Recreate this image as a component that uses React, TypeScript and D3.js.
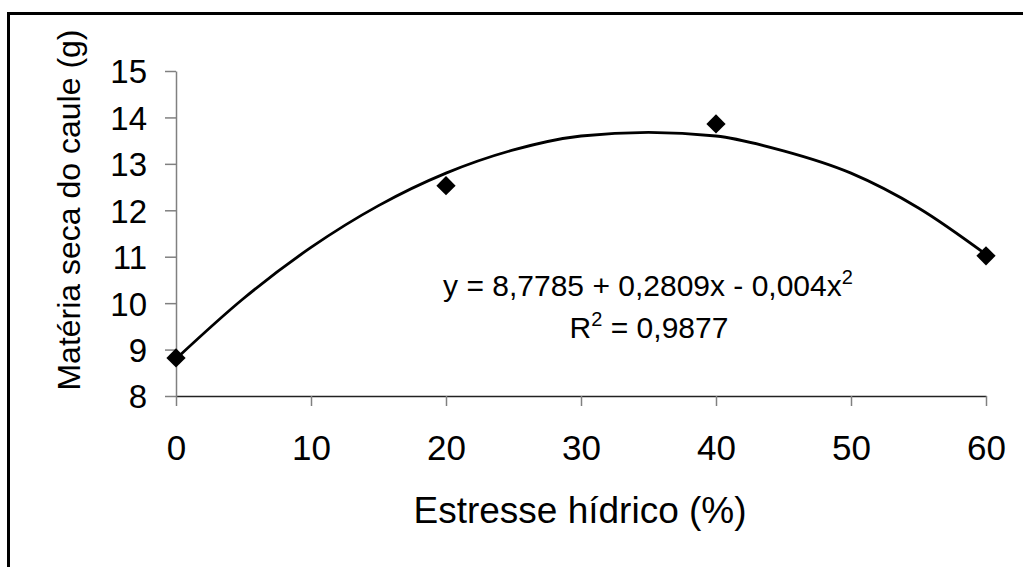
import * as d3 from "d3";
import { useRef, useEffect } from "react";

// observed points
const stressLevels = [0, 20, 40, 60];
const stemDryMatter = [8.82, 12.53, 13.86, 11.02];

// fitted curve
const trendX = [0, 5, 10, 15, 20, 25, 30, 35, 40, 45, 50, 55, 60];
const trendY = [8.8, 10.1, 11.2, 12.1, 12.8, 13.3, 13.6, 13.68, 13.6, 13.28, 12.8, 12.05, 11.05];

const xTicks = [0, 10, 20, 30, 40, 50, 60];
const yTicks = [8, 9, 10, 11, 12, 13, 14, 15];

const equationText = "y = 8,7785 + 0,2809x - 0,004x";
const r2Value = "0,9877";

const FONT = "'Liberation Sans', Arial, sans-serif";

export default function App() {
    const width = 1023;
    const height = 567;
    const left = 176;
    const right = 986;
    const top = 71;
    const bottom = 396;

    const xScale = d3.scaleLinear().domain([0, 60]).range([left, right]);
    const yScale = d3.scaleLinear().domain([8, 15]).range([bottom, top]);

    const xAxisRef = useRef<SVGGElement>(null);
    const yAxisRef = useRef<SVGGElement>(null);

    useEffect(() => {
        const gx = d3.select(xAxisRef.current);
        gx.selectAll("*").remove();
        gx.call(d3.axisBottom(xScale).tickValues(xTicks).tickSize(10).tickSizeOuter(0).tickFormat(d3.format("d")));
        gx.select(".domain").attr("stroke", "#222").attr("stroke-width", 1.5);
        gx.selectAll(".tick line").attr("stroke", "#808080").attr("stroke-width", 1.5);
        gx.selectAll(".tick text")
            .attr("font-family", FONT)
            .attr("font-size", 35)
            .attr("fill", "#000")
            .attr("y", 64)
            .attr("dy", 0);

        const gy = d3.select(yAxisRef.current);
        gy.selectAll("*").remove();
        gy.call(d3.axisLeft(yScale).tickValues(yTicks).tickSize(11).tickSizeOuter(0).tickFormat(d3.format("d")));
        gy.select(".domain").attr("stroke", "#808080").attr("stroke-width", 1.5);
        gy.selectAll(".tick line").attr("stroke", "#808080").attr("stroke-width", 1.5);
        gy.selectAll(".tick text")
            .attr("font-family", FONT)
            .attr("font-size", 33)
            .attr("fill", "#000")
            .attr("x", -29)
            .attr("dy", "0.36em");
    }, []);

    const trendLine = d3.line<number>()
        .x((_, i) => xScale(trendX[i]))
        .y(d => yScale(d))
        .curve(d3.curveMonotoneX);

    const diamond = d3.symbol(d3.symbolSquare, 185)();

    return (
        <svg width={width} height={height} style={{ position: "absolute", left: 0, top: 0, display: "block" }}>
            <rect x={0} y={0} width={width} height={height} fill="#fff" />
            <rect x={8.5} y={13.5} width={1200} height={800} fill="none" stroke="#000" strokeWidth={3} />

            <g ref={xAxisRef} transform={`translate(0, ${bottom})`} />
            <g ref={yAxisRef} transform={`translate(${left}, 0)`} />

            <path d={trendLine(trendY) || ""} fill="none" stroke="#000" strokeWidth={2.8} />

            {stressLevels.map((x, i) => (
                <path
                    key={x}
                    d={diamond || ""}
                    transform={`translate(${xScale(x)}, ${yScale(stemDryMatter[i])}) rotate(45)`}
                    fill="#000"
                />
            ))}

            <text x={648} y={296} textAnchor="middle" fontFamily={FONT} fontSize={30} fill="#000">
                {equationText}
                <tspan fontSize={20} dy={-12}>2</tspan>
            </text>
            <text x={649} y={338} textAnchor="middle" fontFamily={FONT} fontSize={30} fill="#000">
                R<tspan fontSize={20} dy={-12}>2</tspan><tspan dy={12}> = {r2Value}</tspan>
            </text>

            <text x={580} y={523} textAnchor="middle" fontFamily={FONT} fontSize={37} fill="#000">
                Estresse hídrico (%)
            </text>
            <text
                transform="translate(80, 210) rotate(-90)"
                textAnchor="middle"
                fontFamily={FONT}
                fontSize={32}
                fill="#000"
            >
                Matéria seca do caule (g)
            </text>
        </svg>
    );
}
